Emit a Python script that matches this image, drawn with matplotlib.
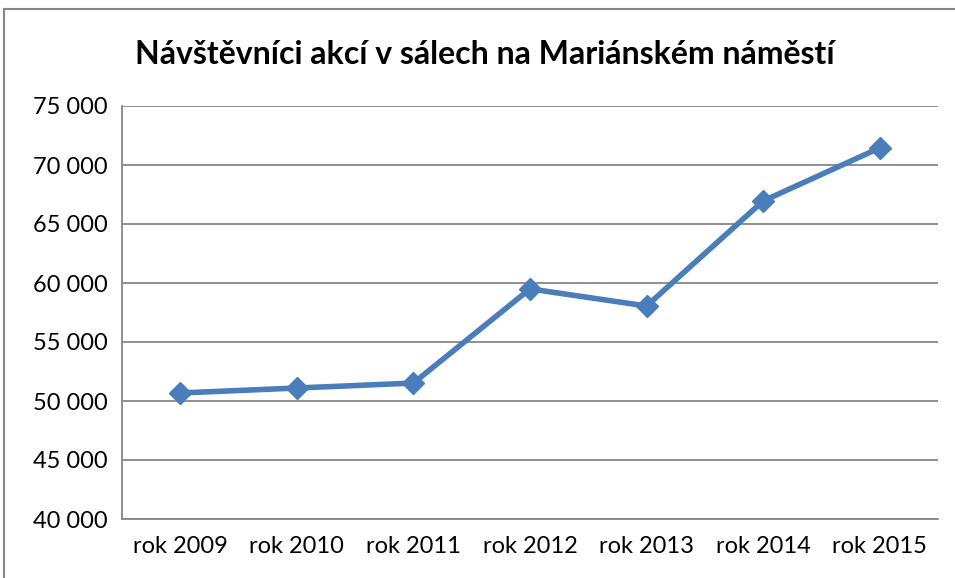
import matplotlib
matplotlib.use("Agg")
import matplotlib.pyplot as plt
import matplotlib.patches as patches
from matplotlib.ticker import FuncFormatter

# data
years = ["rok 2009", "rok 2010", "rok 2011", "rok 2012", "rok 2013", "rok 2014", "rok 2015"]
visitors = [50680, 51100, 51520, 59500, 58050, 66950, 71450]
y_ticks = [40000, 45000, 50000, 55000, 60000, 65000, 70000, 75000]

plt.rcParams['font.family'] = ['Lato', 'DejaVu Sans']

fig = plt.figure(figsize=(9.55, 5.78), dpi=100)
ax = fig.add_axes([122 / 955, 59 / 578, 816 / 955, 413 / 578])

x = list(range(len(years)))
ax.plot(x, visitors, color="#4a7ebb", linewidth=4, marker="D", markersize=11,
        markerfacecolor="#4a7ebb", markeredgecolor="#4a7ebb", zorder=3)

ax.set_xlim(-0.5, len(years) - 0.5)
ax.set_ylim(40000, 75000)
ax.set_yticks(y_ticks)
ax.yaxis.set_major_formatter(FuncFormatter(lambda v, p: f"{int(v):,}".replace(",", " ")))
ax.set_xticks(x)
ax.set_xticklabels(years)

ax.grid(axis="y", color="#878787", linewidth=1.3)
ax.set_axisbelow(True)
for side in ["top", "right"]:
    ax.spines[side].set_visible(False)
for side in ["left", "bottom"]:
    ax.spines[side].set_color("#878787")
    ax.spines[side].set_linewidth(1.3)

ax.tick_params(axis="y", length=0, pad=10, labelsize=17)
ax.tick_params(axis="x", length=0, pad=12, labelsize=17)

fig.text(485 / 955, 1 - 55 / 578, "Návštěvníci akcí v sálech na Mariánském náměstí",
         ha="center", va="center", fontsize=23, fontweight="bold")

# outer chart border
border = patches.Rectangle((4 / 955, -0.1), 1.1, 1.1 - 9 / 578, transform=fig.transFigure,
                           fill=False, edgecolor="#868686", linewidth=1.5, clip_on=False)
fig.patches.append(border)

fig.savefig("out.png", dpi=100)
